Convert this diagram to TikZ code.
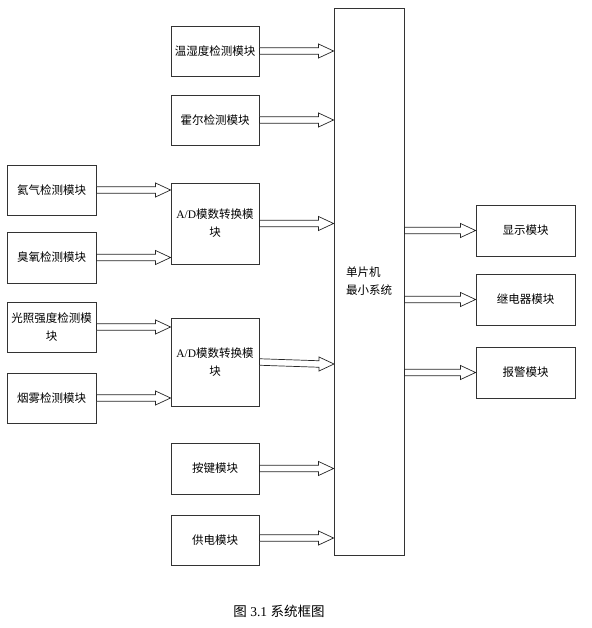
\documentclass[tikz,border=0pt]{standalone}
\usepackage{fontspec}
\setmainfont{Liberation Serif}
\newfontfamily\cjk{Noto Sans CJK SC}
\usetikzlibrary{calc}
\begin{document}
\begin{tikzpicture}[x=1pt,y=-1pt,
 box/.style={draw=black!80, line width=0.9pt, fill=white, inner sep=0pt,
   font=\fontsize{11.5}{18}\selectfont\cjk, align=center},
 lbox/.style={box, minimum width=89pt},
 mbox/.style={box, minimum width=88pt},
 rbox/.style={box, minimum width=99pt},
 fat/.style={draw=black!85, line width=0.7pt, fill=white,
   to path={let \p1=(\tikztostart), \p2=(\tikztotarget) in
   (\x1,\y1+3.25pt) -- (\x2-15pt,\y2+3.25pt) -- (\x2-15pt,\y2+7pt) -- (\x2,\y2)
   -- (\x2-15pt,\y2-7pt) -- (\x2-15pt,\y2-3.25pt) -- (\x1,\y1-3.25pt) -- cycle}}]
\useasboundingbox (0,0) rectangle (591,628);

% central MCU
\node[box, minimum width=70pt, minimum height=547pt, align=left] (mcu) at (369,281.5) {单片机\\最小系统};

% middle column
\node[mbox, minimum height=50pt] (t1) at (215,51) {温湿度检测模块};
\node[mbox, minimum height=50pt] (t2) at (215,120) {霍尔检测模块};
\node[mbox, minimum height=81pt] (ad1) at (215,223.5) {{\rmfamily A/D}模数转换模\\块};
\node[mbox, minimum height=88pt] (ad2) at (215,362) {{\rmfamily A/D}模数转换模\\块};
\node[mbox, minimum height=51pt] (aj) at (215,468.5) {按键模块};
\node[mbox, minimum height=50pt] (gd) at (215,540) {供电模块};

% left column
\node[lbox, minimum height=50pt] (he) at (51.5,190) {氦气检测模块};
\node[lbox, minimum height=51pt] (o3) at (51.5,257.5) {臭氧检测模块};
\node[lbox, minimum height=50pt] (gz) at (51.5,327) {光照强度检测模\\块};
\node[lbox, minimum height=50pt] (yw) at (51.5,398) {烟雾检测模块};

% right column
\node[rbox, minimum height=51pt] (xs) at (525.5,230.5) {显示模块};
\node[rbox, minimum height=51pt] (jd) at (525.5,299.5) {继电器模块};
\node[rbox, minimum height=51pt] (bj) at (525.5,372.5) {报警模块};

% arrows
\draw[fat] (t1.east) to (t1.east -| mcu.west);
\draw[fat] (t2.east) to (t2.east -| mcu.west);
\draw[fat] (ad1.east) to (ad1.east -| mcu.west);
\coordinate (m2) at (334,364);
\draw[fat] (ad2.east) to (m2);
\draw[fat] (aj.east) to (aj.east -| mcu.west);
\draw[fat] ([yshift=2pt]gd.east) to ([yshift=2pt]gd.east -| mcu.west);

\draw[fat] (he.east) to (he.east -| ad1.west);
\draw[fat] (o3.east) to (o3.east -| ad1.west);
\draw[fat] (gz.east) to (gz.east -| ad2.west);
\draw[fat] (yw.east) to (yw.east -| ad2.west);

\draw[fat] (mcu.east |- xs.west) to (xs.west);
\draw[fat] (mcu.east |- jd.west) to (jd.west);
\draw[fat] (mcu.east |- bj.west) to (bj.west);

% caption
\node[font=\fontsize{13.5}{16}\selectfont] (cap) at (279,611) {{\cjk 图} 3.1 {\cjk 系统框图}};
\end{tikzpicture}
\end{document}
